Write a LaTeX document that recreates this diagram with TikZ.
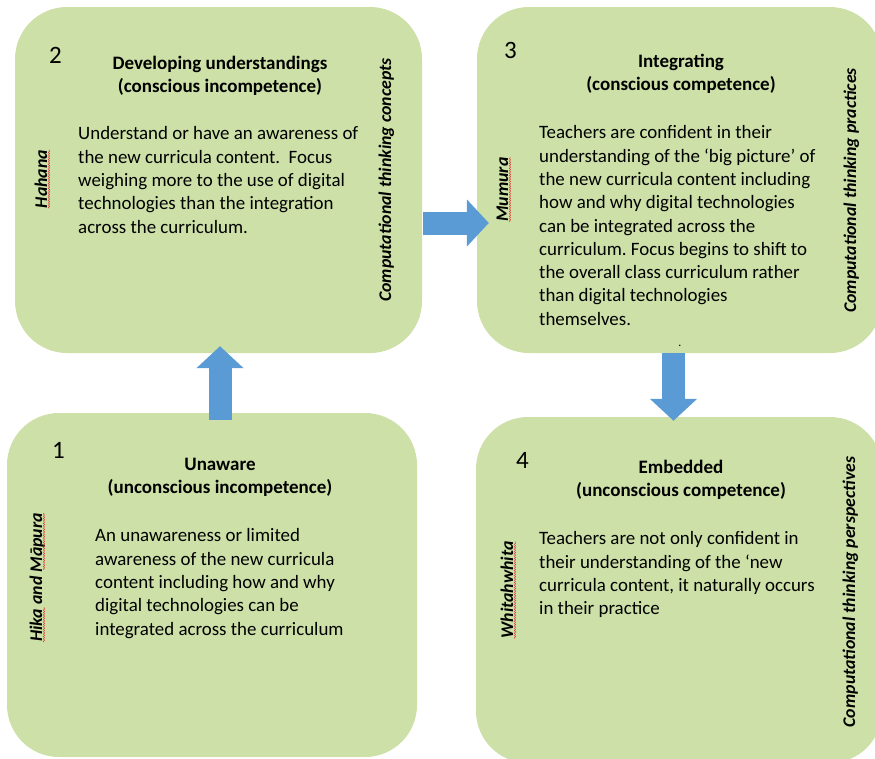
\documentclass[tikz,border=0pt]{standalone}
\usepackage{fontspec}
\setmainfont{Carlito}
\usepackage{xcolor}
\usepackage{tikz}
\usetikzlibrary{arrows.meta,calc,decorations.pathmorphing}
\definecolor{boxgreen}{RGB}{205,224,167}
\definecolor{arrowblue}{RGB}{91,155,213}
\definecolor{squigglered}{RGB}{225,55,55}
\frenchspacing

\begin{document}
\begin{tikzpicture}
  [x=1pt,y=-1pt,
   box/.style={fill=boxgreen,rounded corners=52pt,inner sep=0pt},
   stagenum/.style={font=\fontsize{25}{28}\selectfont,anchor=base west,inner sep=0pt},
   stagetitle/.style={font=\fontsize{19}{23}\selectfont\bfseries,align=center,anchor=north,inner sep=0pt},
   stagetext/.style={font=\fontsize{18.9}{23.3}\selectfont,align=left,anchor=north west,inner sep=0pt},
   sidelabel/.style={font=\fontsize{17.8}{20}\selectfont\bfseries\itshape,rotate=90,anchor=base,inner sep=0pt},
   squiggle/.style={draw=squigglered,line width=0.5pt,decorate,decoration={snake,amplitude=0.6pt,segment length=2.4pt}},
   bluearrow/.style={draw=arrowblue,line width=23pt,-{Triangle[length=22pt,width=46pt]}}] % picture drawn in pixel units, y runs down

    \clip (0,0) rectangle (875,758);

    \node[box,minimum width=407pt,minimum height=346pt] (b2) at (218.5,180) {};
    \node[box,minimum width=405pt,minimum height=346pt] (b3) at (679.5,180) {};
    \node[box,minimum width=410pt,minimum height=344pt] (b1) at (212,585)   {};
    \node[box,minimum width=406pt,minimum height=346pt] (b4) at (679,590)   {};

    \node[stagenum] (n2) at (49,63)  {2};
    \node[stagenum] (n3) at (504,58) {3};
    \node[stagenum] (n1) at (52,458) {1};
    \node[stagenum] (n4) at (516,468) {4};

    \node[stagetitle] (t2) at (220,55.5)  {Developing understandings\\(conscious incompetence)};
    \node[stagetitle] (t3) at (681,53.5)  {Integrating\\(conscious competence)};
    \node[stagetitle] (t1) at (220,457.5) {Unaware\\(unconscious incompetence)};
    \node[stagetitle] (t4) at (681,459.5) {Embedded\\(unconscious competence)};

    \node[stagetext] (d2) at (78,126.5) {Understand or have an awareness of\\the new curricula content.~ Focus\\weighing more to the use of digital\\technologies than the integration\\across the curriculum.};
    \node[stagetext] (d3) at (539,125.5) {Teachers are confident in their\\understanding of the ‘big picture’ of\\the new curricula content including\\how and why digital technologies\\can be integrated across the\\curriculum. Focus begins to shift to\\the overall class curriculum rather\\than digital technologies\\themselves.};
    \node[stagetext] (d1) at (95,528.5) {An unawareness or limited\\awareness of the new curricula\\content including how and why\\digital technologies can be\\integrated across the curriculum};
    \node[stagetext] (d4) at (539,531.5) {Teachers are not only confident in\\their understanding of the ‘new\\curricula content, it naturally occurs\\in their practice};

    \node[sidelabel] (m2) at (47,179)    {Hahana};
    \node[sidelabel] (c2) at (391,180)   {Computational thinking concepts};
    \node[sidelabel] (m3) at (508,189.5) {Mumura};
    \node[sidelabel] (c3) at (856,190.5) {Computational thinking practices};
    \node[sidelabel] (m1) at (42,577.5)  {Hika and Māpura};
    \node[sidelabel] (m4) at (513,590)   {Whitahwhita};
    \node[sidelabel] (c4) at (855,592)   {Computational thinking perspectives};

    \draw[squiggle] ($(m2.base west)+(2,0)$) -- ($(m2.base east)+(2,0)$);
    \draw[squiggle] ($(m3.base west)+(2,0)$) -- ($(m3.base east)+(2,0)$);
    \draw[squiggle] ($(m4.base west)+(2,0)$) -- ($(m4.base east)+(2,0)$);
    \draw[squiggle] ($(m1.base west)+(2,0)$) -- ($(m1.base west)!0.27!(m1.base east)+(2,0)$);
    \draw[squiggle] ($(m1.base west)!0.56!(m1.base east)+(2,0)$) -- ($(m1.base east)+(2,0)$);

    \node[inner sep=0pt,font=\fontsize{12}{12}\selectfont] (dot) at (680,346) {.};

    \draw[bluearrow] ($(b2.south |- b1.north)+(1.5,7)$) -- ($(b2.south)+(1.5,-7)$);
    \draw[bluearrow] ($(b2.east)+(1,43)$) -- ($(b3.west)+(12,43)$);
    \draw[bluearrow] ($(b3.south)+(-6,0)$) -- ($(b3.south |- b4.north)+(-6,4)$);

\end{tikzpicture}
\end{document}
